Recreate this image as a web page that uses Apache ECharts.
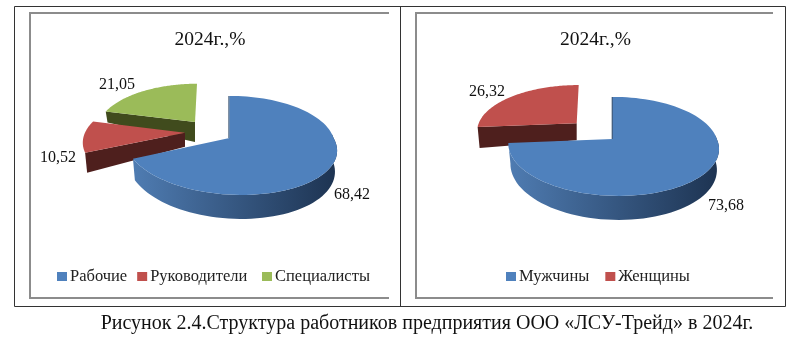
<!DOCTYPE html>
<html><head><meta charset="utf-8">
<style>html,body{margin:0;padding:0;background:#fff}#c{width:800px;height:363px}</style>
<script src="https://cdn.jsdelivr.net/npm/echarts@6/dist/echarts.min.js"></script>
</head><body><div id="c"></div>
<script>
// ---- data ----
const titleText = '2024г.,%';
const caption = 'Рисунок 2.4.Структура работников предприятия ООО «ЛСУ-Трейд» в 2024г.';
const staffCategories = ['Рабочие', 'Руководители', 'Специалисты'];
const staffValues = [68.42, 10.52, 21.05];
const staffLabels = ['68,42', '10,52', '21,05'];
const genderCategories = ['Мужчины', 'Женщины'];
const genderValues = [73.68, 26.32];
const genderLabels = ['73,68', '26,32'];

// ---- styling and layout ----
const FONT = '"Liberation Serif","Times New Roman",serif';
const STYLE = {
  top: ['#4f81bd', '#c0504d', '#9bbb59'],
  side: ['#2a4668', '#4e1f1d', '#404b1d'],
  wall: ['#4f7cb2', '#1d3351']
};
const staffLayout = {
  center: [229.5, 138],
  slices: [
    {dx: 0, dy: 0, a: 104, b: 48.4, shear: -12, depthOut: 20, depthIn: 20, label: [352, 195]},
    {dx: -44.5, dy: -5.3, a: 100, b: 47, shear: 6, depthOut: 20, depthIn: 14, label: [58, 158]},
    {dx: -34.5, dy: -16, a: 96, b: 44, shear: 2, depthOut: 11, depthIn: 20, label: [117, 85]}
  ]
};
const genderLayout = {
  center: [612.8, 139],
  slices: [
    {dx: 0, dy: 0, a: 104, b: 48.4, shear: -6, depthOut: 24, depthIn: 20, label: [726, 206]},
    {dx: -36.1, dy: -15.7, a: 98, b: 44, shear: 2, depthOut: 21, depthIn: 17, label: [487, 92]}
  ]
};
const K = 0.15;

function project(s, apex, t) {
  const X = Math.sin(t), Y = Math.cos(t), p = 1 / (1 + K * Y);
  const skew = s.dx ? s.shear * Y : s.shear * Math.min(Y, 0);
  return [apex[0] + s.a * X * p + skew, apex[1] - s.b * Y * p];
}

function pieSeries(name, idx, values, labels, layout) {
  const total = values.reduce((a, b) => a + b, 0);
  let before = 0;
  for (let i = 0; i < idx; i++) before += values[i];
  const t0 = before / total * 2 * Math.PI;
  const t1 = (before + values[idx]) / total * 2 * Math.PI;
  const s = layout.slices[idx];
  const apex = [layout.center[0] + s.dx, layout.center[1] + s.dy];
  return {
    type: 'custom', name, coordinateSystem: 'none',
    itemStyle: {color: STYLE.top[idx]},
    silent: true, animation: false, z: 5 - idx,
    data: [[values[idx]]],
    renderItem() {
      const n = 90, arc = [];
      for (let i = 0; i <= n; i++) arc.push(project(s, apex, t0 + (t1 - t0) * i / n));
      const children = [];
      const drop = (pt, d) => [pt[0] + (apex[0] - pt[0]) * 0.02, pt[1] + d];
      if (idx === 0) {
        // curved front wall, from the right-hand extreme to the end of the slice
        const vis = [];
        for (let i = 0; i <= n; i++) {
          const t = t0 + (t1 - t0) * i / n;
          if (t >= Math.PI / 2 - 0.1) vis.push([project(s, apex, t), Math.cos(t)]);
        }
        const top = vis.map(v => v[0]);
        const bot = vis.map(v => drop(v[0], s.depthIn - 4 * Math.min(v[1], 0))).reverse();
        children.push({type: 'polygon', shape: {points: top.concat(bot)}, style: {
          fill: new echarts.graphic.LinearGradient(1, 0, 0, 0, [
            {offset: 0, color: STYLE.wall[1]}, {offset: 1, color: STYLE.wall[0]}])}});
        const st = project(s, apex, t0);
        children.push({type: 'line', shape: {x1: st[0] - 0.5, y1: st[1], x2: apex[0] - 0.5, y2: apex[1]},
          style: {stroke: STYLE.side[0], lineWidth: 1.2}});
      } else {
        // cut face of the exploded slice
        const o = project(s, apex, t0);
        children.push({type: 'polygon', shape: {points: [o, apex, [apex[0], apex[1] + s.depthIn], drop(o, s.depthOut)]},
          style: {fill: STYLE.side[idx]}});
      }
      children.push({type: 'polygon', shape: {points: arc.concat([apex])}, style: {fill: STYLE.top[idx]}});
      children.push({type: 'text', x: s.label[0], y: s.label[1], style: {
        text: labels[idx], font: '16px ' + FONT, fill: '#111', align: 'center', verticalAlign: 'middle'}});
      return {type: 'group', children};
    }
  };
}

function legendOf(names, left, gap) {
  return {data: names, left, top: 263, icon: 'rect', itemWidth: 10, itemHeight: 9, itemGap: gap,
    selectedMode: false, textStyle: {fontFamily: FONT, fontSize: 16.5, color: '#222', padding: [0, 0, 0, -2]}};
}

const hline = (x1, y1, x2, y2, color, lw) => ({type: 'line', shape: {x1, y1, x2, y2},
  style: {stroke: color, lineWidth: lw}, z: 1});

const series = [];
[[staffCategories, staffValues, staffLabels, staffLayout],
 [genderCategories, genderValues, genderLabels, genderLayout]].forEach(([names, vals, labs, lay]) => {
  names.forEach((nm, i) => series.push(pieSeries(nm, i, vals, labs, lay)));
});

const chart = echarts.init(document.getElementById('c'), null, {renderer: 'canvas'});
const titleStyle = {fontFamily: FONT, fontSize: 19.5, fontWeight: 'normal', color: '#111'};
chart.setOption({
  backgroundColor: '#fff', animation: false,
  title: [
    {text: titleText, left: 205, top: 25, textAlign: 'center', textStyle: titleStyle},
    {text: titleText, left: 590.5, top: 25, textAlign: 'center', textStyle: titleStyle}
  ],
  legend: [
    legendOf(staffCategories.slice(0, 2), 52, 10),
    legendOf(staffCategories.slice(2), 257, 10),
    legendOf(genderCategories, 501, 16)
  ],
  graphic: {elements: [
    {type: 'rect', shape: {x: 14.5, y: 6.5, width: 771, height: 300}, style: {fill: 'none', stroke: '#333', lineWidth: 1}, z: 1},
    hline(400.5, 6, 400.5, 307, '#333', 1),
    hline(30, 13, 389, 13, '#8c8c8c', 2), hline(30, 298, 389, 298, '#8c8c8c', 2), hline(30, 12, 30, 299, '#8c8c8c', 2),
    hline(416, 13, 773, 13, '#8c8c8c', 2), hline(416, 298, 773, 298, '#8c8c8c', 2), hline(416, 12, 416, 299, '#8c8c8c', 2),
    {type: 'text', x: 427, y: 324, z: 1, style: {text: caption, font: '20px ' + FONT, fill: '#111', align: 'center', verticalAlign: 'middle'}}
  ]},
  series
});
</script></body></html>
